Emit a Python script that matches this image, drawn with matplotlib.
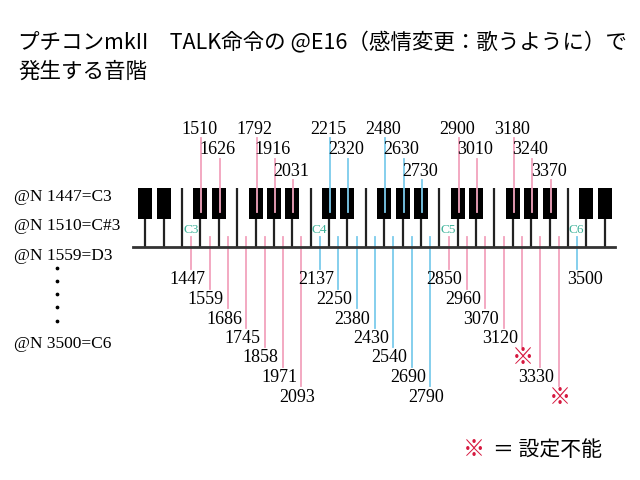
"""
プチコンmkII TALK @E16 の音階 - ピアノ鍵盤図
"""

import matplotlib
matplotlib.use('Agg')
import matplotlib.pyplot as plt
from matplotlib.patches import Rectangle

# 白鍵 (下段) と黒鍵 (上段) の @N 値。None = 設定不能
white_notes = ['C3', 'D3', 'E3', 'F3', 'G3', 'A3', 'B3',
               'C4', 'D4', 'E4', 'F4', 'G4', 'A4', 'B4',
               'C5', 'D5', 'E5', 'F5', 'G5', 'A5', 'B5',
               'C6']
white_values = [1447, 1559, 1686, 1745, 1858, 1971, 2093,
                2137, 2250, 2380, 2430, 2540, 2690, 2790,
                2850, 2960, 3070, 3120, None, 3330, None,
                3500]
black_notes = ['C#3', 'D#3', 'F#3', 'G#3', 'A#3',
               'C#4', 'D#4', 'F#4', 'G#4', 'A#4',
               'C#5', 'D#5', 'F#5', 'G#5', 'A#5']
black_values = [1510, 1626, 1792, 1916, 2031,
                2215, 2320, 2480, 2630, 2730,
                2900, 3010, 3180, 3240, 3370]
octave_labels = ['C3', 'C4', 'C5', 'C6']
side_lines = ['@N 1447=C3', '@N 1510=C#3', '@N 1559=D3']
side_last = '@N 3500=C6'

title = 'プチコンmkII\u3000TALK命令の @E16（感情変更：歌うように）で\n発生する音階'
legend_text = '＝ 設定不能'

# 鍵盤の形 (ピクセル座標)
X0 = 182.0      # C3 の左端
W = 18.38       # 白鍵の幅
BK_W = 14
KEY_TOP, BK_BOTTOM, BASE = 188, 219, 247

PINK = '#f2a3bd'
BLUE = '#7ccbec'
TEAL = '#3fb39b'
RED = '#d6183f'
SERIF = 'Liberation Serif'
JP = ['Noto Sans CJK JP', 'DejaVu Sans']

LETTERS = 'CDEFGAB'


def white_index(note):
    return LETTERS.index(note[0]) + 7 * (int(note[-1]) - 3)


def note_color(note):
    return BLUE if int(note[-1]) % 2 == 0 else PINK


fig = plt.figure(figsize=(6.4, 4.8), dpi=100)
ax = fig.add_axes([0, 0, 1, 1])
ax.set_xlim(0, 640)
ax.set_ylim(480, 0)
ax.axis('off')

# タイトル
fig.text(18 / 640, 1 - 32 / 480, title, ha='left', va='top',
         fontsize=15.5, family=JP, linespacing=1.4)

# 鍵盤: 白鍵の境界線
for b in range(-2, 24):
    x = X0 + W * b
    tall = (b % 7) in (0, 3)
    ax.plot([x, x], [KEY_TOP if tall else BK_BOTTOM, BASE],
            color='#222222', lw=1.6, zorder=2, solid_capstyle='butt')
ax.plot([133, 615], [BASE, BASE], color='#333333', lw=2, zorder=2)

# 黒鍵 (G#2 .. D#6)
for b in range(-2, 24):
    if (b % 7) in (0, 3):
        continue
    x = X0 + W * b
    ax.add_patch(Rectangle((x - BK_W / 2, KEY_TOP), BK_W, BK_BOTTOM - KEY_TOP,
                           facecolor='black', edgecolor='none', zorder=3))

# オクターブ表示
for lab in octave_labels:
    x = X0 + W * white_index(lab)
    ax.text(x + 1, 230, lab, ha='left', va='center', fontsize=9.5,
            family=SERIF, color=TEAL, zorder=4)

# 黒鍵の値 (上段)
upper_row = {'C': 0, 'D': 1, 'F': 0, 'G': 1, 'A': 2}
for note, val in zip(black_notes, black_values):
    x = X0 + W * (white_index(note) + 1)
    y = 129 + 21 * upper_row[note[0]]
    ax.plot([x + 1, x + 1], [y + 9, 212], color=note_color(note), lw=1.3, zorder=5)
    ax.text(x - 1, y, str(val), ha='center', va='center', fontsize=13,
            family=SERIF, zorder=6)

# 白鍵の値 (下段)
for note, val in zip(white_notes, white_values):
    idx = white_index(note)
    x = X0 + W * idx + W / 2
    row = LETTERS.index(note[0])
    y = 280 + 19.5 * row
    ax.plot([x, x], [237, y - 11], color=note_color(note), lw=1.3, zorder=1)
    if val is None:
        ax.text(x + 1, y, '※', ha='center', va='center', fontsize=16,
                family=JP, color=RED, zorder=6)
    else:
        dx = 8 if note == 'C6' else -4
        ax.text(x + dx, y, str(val), ha='center', va='center', fontsize=13,
                family=SERIF, zorder=6)

# 左側の説明
for i, s in enumerate(side_lines):
    ax.text(14, 197 + 29.5 * i, s, ha='left', va='center', fontsize=12.5, family=SERIF)
ax.plot([57] * 5, [268, 281, 294, 307, 321], 'o', color='black', ms=1.7)
ax.text(14, 344, side_last, ha='left', va='center', fontsize=12.5, family=SERIF)

# 凡例
ax.text(474, 450, '※', ha='center', va='center', fontsize=16, family=JP, color=RED)
ax.text(493, 450, legend_text, ha='left', va='center', fontsize=15, family=JP)

fig.savefig('out.png', dpi=100, facecolor='white')
